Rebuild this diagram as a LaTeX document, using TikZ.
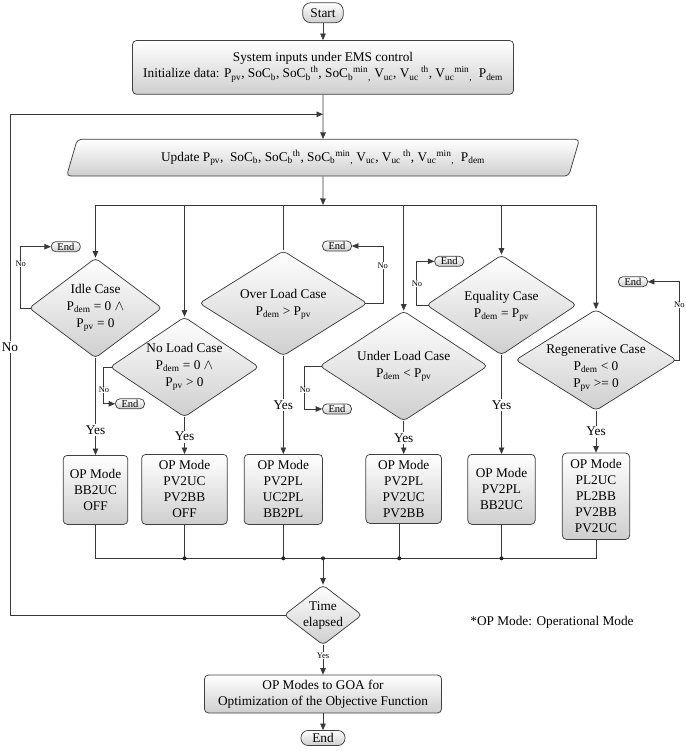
\documentclass[tikz,border=0pt]{standalone}
\usepackage{fontspec}
\setmainfont{Liberation Serif}
\usetikzlibrary{shapes.geometric,arrows.meta,calc}
\begin{document}
\begin{tikzpicture}[x=1pt,y=-1pt,
  every node/.style={font=\fontsize{13.3}{16}\selectfont, inner sep=0pt},
  ln/.style={draw=black!78, line width=0.75pt},
  arr/.style={ln, -{Triangle[length=6.5pt,width=5.5pt]}},
  shd/.style={top color=white, bottom color=black!19, draw=black!75, line width=0.75pt},
  procbox/.style={shd, rectangle, rounded corners=4pt, align=center},
  termbox/.style={shd, rectangle, rounded corners=8pt, minimum width=40.6pt, minimum height=20pt},
  endsm/.style={shd, rectangle, rounded corners=4.5pt, minimum width=29pt, minimum height=10pt, font=\fontsize{10.5}{12}\selectfont},
  dia/.style={shd, diamond, rounded corners=4pt},
  dtext/.style={align=center, font=\fontsize{13.3}{17}\selectfont},
  lblsm/.style={fill=white, font=\fontsize{8.5}{10}\selectfont, inner sep=0.6pt},
  lbl/.style={font=\fontsize{13.3}{16}\selectfont, inner sep=1.2pt},
]
\useasboundingbox (0,0) rectangle (685,751);

% --- top ---
\node[termbox] (start) at (323,12.7) {Start};
\node[procbox, minimum width=381pt, minimum height=53.8pt] (init) at (323,67.4)
  {System inputs under EMS control\\
   Initialize data: P\textsubscript{pv}, SoC\textsubscript{b}, SoC\textsubscript{b}\textsuperscript{th}, SoC\textsubscript{b}\textsuperscript{min}\textsubscript{,} V\textsubscript{uc}, V\textsubscript{uc}\textsuperscript{ th}, V\textsubscript{uc}\textsuperscript{min}\textsubscript{,}~ P\textsubscript{dem}};
\node[shd, trapezium, trapezium left angle=66, trapezium right angle=114, trapezium stretches=true,
      minimum width=515.5pt, minimum height=36.7pt, rounded corners=4pt] (upd) at (323,157.7)
  {Update P\textsubscript{pv},~ SoC\textsubscript{b}, SoC\textsubscript{b}\textsuperscript{th}, SoC\textsubscript{b}\textsuperscript{min}\textsubscript{,} V\textsubscript{uc}, V\textsubscript{uc}\textsuperscript{ th}, V\textsubscript{uc}\textsuperscript{min}\textsubscript{,}~ P\textsubscript{dem}};

\coordinate (loopin) at (323,114.3);
\coordinate (lx) at (10,114.3);
\coordinate (dist) at (323,205);
\coordinate (col) at (323,558.3);

% --- decisions ---
\node[dia, minimum width=133pt, minimum height=100pt] (idle) at (95.5,308) {};
\node[dtext] (idlet) at (95.5,308) {Idle Case\\P\textsubscript{dem} = 0 $\wedge$\\P\textsubscript{pv} = 0};
\node[dia, minimum width=149pt, minimum height=100pt] (noload) at (184.5,367) {};
\node[dtext] (noloadt) at (184.5,367) {No Load Case\\P\textsubscript{dem} = 0 $\wedge$\\P\textsubscript{pv} > 0};
\node[dia, minimum width=168pt, minimum height=105pt] (over) at (283.3,303.3) {};
\node[dtext] (overt) at (283.3,304) {Over Load Case\\P\textsubscript{dem} > P\textsubscript{pv}};
\node[dia, minimum width=168pt, minimum height=110pt] (under) at (403.7,366) {};
\node[dtext] (undert) at (403.7,366.5) {Under Load Case\\P\textsubscript{dem} < P\textsubscript{pv}};
\node[dia, minimum width=150pt, minimum height=100pt] (equal) at (501.5,305) {};
\node[dtext] (equalt) at (501.5,306.5) {Equality Case\\P\textsubscript{dem} = P\textsubscript{pv}};
\node[dia, minimum width=161pt, minimum height=101pt] (regen) at (596,360) {};
\node[dtext] (regent) at (596,368.5) {Regenerative Case\\P\textsubscript{dem} < 0\\P\textsubscript{pv} >= 0};

% --- End nodes of No branches ---
\node[endsm] (end1) at (65.8,246.7) {End};
\node[endsm] (end2) at (130,403.8) {End};
\node[endsm] (end3) at (337,246) {End};
\node[endsm] (end4) at (337,409) {End};
\node[endsm] (end5) at (449.2,261.3) {End};
\node[endsm] (end6) at (633,281.7) {End};

% --- Yes labels ---
\node[lbl] (yes1) at (95.5,430) {Yes};
\node[lbl] (yes2) at (184.5,436.7) {Yes};
\node[lbl] (yes3) at (283.3,405) {Yes};
\node[lbl] (yes4) at (403.7,438) {Yes};
\node[lbl] (yes5) at (501.5,405) {Yes};
\node[lbl] (yes6) at (596,431.7) {Yes};

% --- OP boxes ---
\node[procbox, anchor=north, minimum width=64.6pt, minimum height=69pt] (box1) at (95.5,455) {OP Mode\\BB2UC\\OFF};
\node[procbox, anchor=north, minimum width=85.6pt, minimum height=70pt] (box2) at (184.5,454) {OP Mode\\PV2UC\\PV2BB\\OFF};
\node[procbox, anchor=north, minimum width=78.3pt, minimum height=70pt] (box3) at (283.3,454) {OP Mode\\PV2PL\\UC2PL\\BB2PL};
\node[procbox, anchor=north, minimum width=75.7pt, minimum height=69pt] (box4) at (403.7,454) {OP Mode\\PV2PL\\PV2UC\\PV2BB};
\node[procbox, anchor=north, minimum width=67.3pt, minimum height=70pt] (box5) at (501.5,454) {OP Mode\\PV2PL\\BB2UC};
\node[procbox, anchor=north, minimum width=67.3pt, minimum height=86.3pt] (box6) at (596,452.7) {OP Mode\\PL2UC\\PL2BB\\PV2BB\\PV2UC};
\coordinate (b4) at ($(box4.south)+(-4.5,0)$);

% --- bottom ---
\node[dia, minimum width=78pt, minimum height=60pt] (time) at (323,615) {};
\node[dtext, font=\fontsize{13.3}{16}\selectfont] (timet) at (323,615.3) {Time\\elapsed};
\node[lblsm, fill=none] (yest) at (323,655.7) {Yes};
\node[procbox, minimum width=237pt, minimum height=38pt] (goa) at (323,694) {OP Modes to GOA for\\Optimization of the Objective Function};
\node[termbox, minimum width=44pt, minimum height=15pt, rounded corners=7pt] (endf) at (323,738) {End};
\node (note) at (552,622.7) {*OP Mode: Operational Mode};

% --- connectors ---
\draw[arr] (start) -- (init);
\draw[arr] (init) -- (upd);
\draw[arr] (upd) -- (dist);
\draw[ln] (idle.north |- dist) -- (regen.north |- dist);
\draw[arr] (idle.north |- dist) -- (idle.north);
\draw[arr] (noload.north |- dist) -- (noload.north);
\draw[ln] (over.north |- dist) -- (over.north);
\draw[arr] (under.north |- dist) -- (under.north);
\draw[arr] (equal.north |- dist) -- (equal.north);
\draw[arr] (regen.north |- dist) -- (regen.north);

\draw[arr, shorten <=-2.6pt] (idle.west) -- ++(-8.3,0) |- (end1);
\draw[arr, shorten <=-2.6pt] (noload.west) -- ++(-6,0) |- (end2);
\draw[arr, shorten <=-2.6pt] (over.east) -- ++(15.4,0) |- (end3);
\draw[arr, shorten <=-2.6pt] (under.west) -- ++(-14.7,0) |- (end4);
\draw[arr, shorten <=-2.6pt] (equal.west) -- ++(-9.5,0) |- (end5);
\draw[arr, shorten <=-2.6pt] (regen.east) -- ++(2.8,0) |- (end6);

\draw[ln] (idle.south) -- (yes1);   \draw[arr] (yes1) -- (box1);
\draw[ln] (noload.south) -- (yes2); \draw[arr] (yes2) -- (box2);
\draw[ln] (over.south) -- (yes3);   \draw[arr] (yes3) -- (box3);
\draw[ln] (under.south) -- (yes4);  \draw[arr] (yes4) -- (box4);
\draw[ln] (equal.south) -- (yes5);  \draw[arr] (yes5) -- (box5);
\draw[ln] (regen.south) -- (yes6);  \draw[arr] (yes6) -- (box6);

\draw[ln] (box1.south) |- (col) -| (box6.south);
\draw[ln] (box2.south) -- (box2.south |- col);
\draw[ln] (box3.south) -- (box3.south |- col);
\draw[ln] (b4) -- (b4 |- col);
\draw[ln] (box5.south) -- (box5.south |- col);
\foreach \p in {box2.south, box3.south, b4, box5.south, col}
  \fill[black!85] (\p |- col) circle (2pt);

\draw[arr] (col) -- (time);
\draw[arr, shorten <=-2pt] (time.west) -| (lx) -- (loopin);
\draw[ln] (time) -- (yest);
\draw[arr] (yest) -- (goa);
\draw[arr] (goa) -- (endf);

% --- No labels ---
\node[lbl, fill=white] (nobig) at (10,347) {No};
\node[lblsm] (no1) at (20.7,264) {No};
\node[lblsm] (no2) at (104,390) {No};
\node[lblsm] (no3) at (382.7,265.7) {No};
\node[lblsm] (no4) at (305,390) {No};
\node[lblsm] (no5) at (417,283.3) {No};
\node[lblsm] (no6) at (679.3,305) {No};
\end{tikzpicture}
\end{document}
